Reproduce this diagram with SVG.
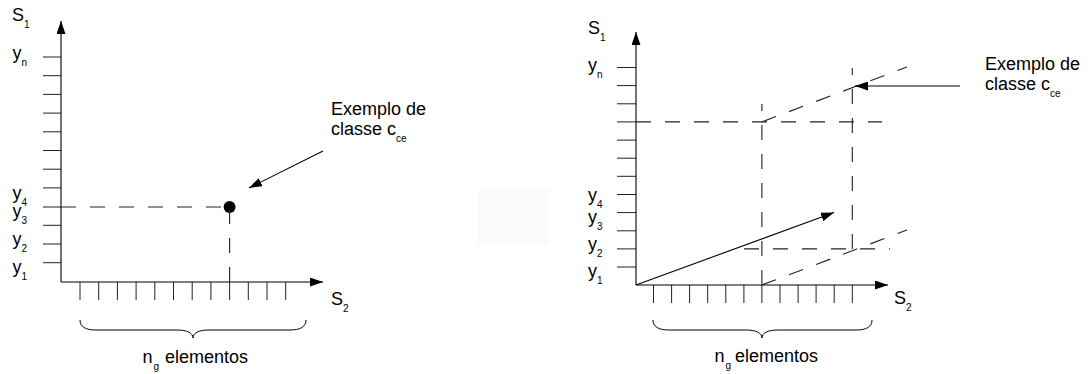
<svg xmlns="http://www.w3.org/2000/svg" width="1090" height="374" viewBox="0 0 1090 374">
<style>
.ax{stroke:#000;stroke-width:1.1;fill:none}
.tk{stroke:#222;stroke-width:1}
.da{stroke:#222;stroke-width:1.1;stroke-dasharray:15 14;fill:none}
.ln{stroke:#000;stroke-width:1.1;fill:none}
.br{stroke:#000;stroke-width:1;fill:none}
text{font-family:"Liberation Sans",Arial,sans-serif;font-size:18px;fill:#000}
.s{font-size:10px}
</style>
<defs>
<marker id="ah" viewBox="0 0 13 9" refX="13" refY="4.5" markerWidth="13" markerHeight="9" markerUnits="userSpaceOnUse" orient="auto"><path d="M0,0 L13,4.5 L0,9 z" fill="#000"/></marker>
</defs>
<rect x="478" y="189" width="71" height="56" fill="#fafafa"/>

<g id="left-chart">
<g id="left-y-ticks" class="tk">
<line x1="43" y1="57" x2="61" y2="57"/><line x1="43" y1="75.7" x2="61" y2="75.7"/><line x1="43" y1="94.4" x2="61" y2="94.4"/><line x1="43" y1="113.1" x2="61" y2="113.1"/><line x1="43" y1="131.8" x2="61" y2="131.8"/><line x1="43" y1="150.5" x2="61" y2="150.5"/><line x1="43" y1="169.2" x2="61" y2="169.2"/><line x1="43" y1="187.9" x2="61" y2="187.9"/><line x1="43" y1="207" x2="61" y2="207"/><line x1="43" y1="225.3" x2="61" y2="225.3"/><line x1="43" y1="244" x2="61" y2="244"/><line x1="43" y1="262.7" x2="61" y2="262.7"/>
</g>
<g id="left-x-ticks" class="tk">
<line x1="80" y1="282" x2="80" y2="300"/><line x1="98.7" y1="282" x2="98.7" y2="300"/><line x1="117.4" y1="282" x2="117.4" y2="300"/><line x1="136.1" y1="282" x2="136.1" y2="300"/><line x1="154.8" y1="282" x2="154.8" y2="300"/><line x1="173.5" y1="282" x2="173.5" y2="300"/><line x1="192.2" y1="282" x2="192.2" y2="300"/><line x1="210.9" y1="282" x2="210.9" y2="300"/><line x1="229.6" y1="282" x2="229.6" y2="300"/><line x1="248.3" y1="282" x2="248.3" y2="300"/><line x1="267" y1="282" x2="267" y2="300"/><line x1="285.7" y1="282" x2="285.7" y2="300"/>
</g>
<g id="left-labels">
<text x="12" y="21">S<tspan class="s" dy="7">1</tspan></text>
<text x="12.5" y="59">y<tspan class="s" dy="7">n</tspan></text>
<text x="12.5" y="198.5">y<tspan class="s" dy="7">4</tspan></text>
<text x="12.5" y="217">y<tspan class="s" dy="7">3</tspan></text>
<text x="12.5" y="245">y<tspan class="s" dy="7">2</tspan></text>
<text x="12.5" y="272.5">y<tspan class="s" dy="7">1</tspan></text>
<text x="331" y="305">S<tspan class="s" dy="7">2</tspan></text>
</g>
<g id="left-point"><circle cx="229.6" cy="207" r="6" fill="#000"/></g>
<g id="left-callout-text">
<text x="331" y="115">Exemplo de</text>
<text x="331" y="135">classe c<tspan class="s" dy="7">ce</tspan></text>
</g>
<g id="left-brace">
<path class="br" d="M80,320 C80,327 86,330 96,330 L177,330 C187,330 193,333 193,338 C193,333 199,330 209,330 L290,330 C300,330 306,327 306,320"/>
<text x="142.5" y="362.5">n</text><text class="s" x="153.5" y="369.5">g</text><text x="165" y="362.5">elementos</text>
</g>
</g>

<g id="right-chart">
<g id="right-y-ticks" class="tk">
<line x1="617" y1="67.5" x2="636" y2="67.5"/><line x1="617" y1="85.6" x2="636" y2="85.6"/><line x1="617" y1="103.8" x2="636" y2="103.8"/><line x1="617" y1="121.9" x2="636" y2="121.9"/><line x1="617" y1="140.1" x2="636" y2="140.1"/><line x1="617" y1="158.2" x2="636" y2="158.2"/><line x1="617" y1="176.3" x2="636" y2="176.3"/><line x1="617" y1="194.5" x2="636" y2="194.5"/><line x1="617" y1="212.6" x2="636" y2="212.6"/><line x1="617" y1="230.8" x2="636" y2="230.8"/><line x1="617" y1="248.9" x2="636" y2="248.9"/><line x1="617" y1="267" x2="636" y2="267"/>
</g>
<g id="right-x-ticks" class="tk">
<line x1="653.5" y1="285" x2="653.5" y2="303"/><line x1="671.6" y1="285" x2="671.6" y2="303"/><line x1="689.6" y1="285" x2="689.6" y2="303"/><line x1="707.7" y1="285" x2="707.7" y2="303"/><line x1="725.8" y1="285" x2="725.8" y2="303"/><line x1="743.9" y1="285" x2="743.9" y2="303"/><line x1="761.9" y1="285" x2="761.9" y2="303"/><line x1="780" y1="285" x2="780" y2="303"/><line x1="798.1" y1="285" x2="798.1" y2="303"/><line x1="816.1" y1="285" x2="816.1" y2="303"/><line x1="834.2" y1="285" x2="834.2" y2="303"/><line x1="852.3" y1="285" x2="852.3" y2="303"/>
</g>
<g id="right-labels">
<text x="588" y="33.5">S<tspan class="s" dy="7">1</tspan></text>
<text x="588" y="71">y<tspan class="s" dy="7">n</tspan></text>
<text x="588" y="201">y<tspan class="s" dy="7">4</tspan></text>
<text x="588" y="222.5">y<tspan class="s" dy="7">3</tspan></text>
<text x="588" y="249.5">y<tspan class="s" dy="7">2</tspan></text>
<text x="588" y="276.5">y<tspan class="s" dy="7">1</tspan></text>
<text x="894" y="304">S<tspan class="s" dy="7">2</tspan></text>
</g>
<g id="right-callout-text">
<text x="985" y="70">Exemplo de</text>
<text x="985" y="90">classe c<tspan class="s" dy="7">ce</tspan></text>
</g>
<g id="right-brace">
<path class="br" d="M653,320 C653,327 659,330 669,330 L746,330 C756,330 762,333 762,338 C762,333 768,330 778,330 L856,330 C866,330 872,327 872,320"/>
<text x="714.5" y="362">n</text><text class="s" x="725.5" y="369">g</text><text x="735" y="362">elementos</text>
</g>
</g>

<g id="connectors">
<line class="ax" x1="61" y1="282" x2="61" y2="21" marker-end="url(#ah)"/>
<line class="ax" x1="61" y1="282" x2="323" y2="282" marker-end="url(#ah)"/>
<line class="da" x1="61" y1="207" x2="229" y2="207"/>
<line class="da" x1="229.6" y1="282" x2="229.6" y2="207"/>
<line class="ln" x1="323" y1="151" x2="249" y2="188" marker-end="url(#ah)"/>

<line class="ax" x1="636" y1="285" x2="636" y2="32" marker-end="url(#ah)"/>
<line class="ax" x1="636" y1="285" x2="888" y2="285" marker-end="url(#ah)"/>
<line class="ln" x1="636" y1="285" x2="834" y2="212.5" marker-end="url(#ah)"/>
<line class="da" x1="636" y1="121.9" x2="882" y2="121.9"/>
<line class="da" x1="761.9" y1="285" x2="761.9" y2="104"/>
<line class="da" x1="852.3" y1="249" x2="852.3" y2="68"/>
<line class="da" x1="744" y1="248.9" x2="890" y2="248.9"/>
<line class="da" x1="761.9" y1="121.9" x2="907" y2="67"/>
<line class="da" x1="761.9" y1="285" x2="907" y2="230"/>
<line class="ln" x1="960" y1="86" x2="855" y2="86" marker-end="url(#ah)"/>
</g>
</svg>
